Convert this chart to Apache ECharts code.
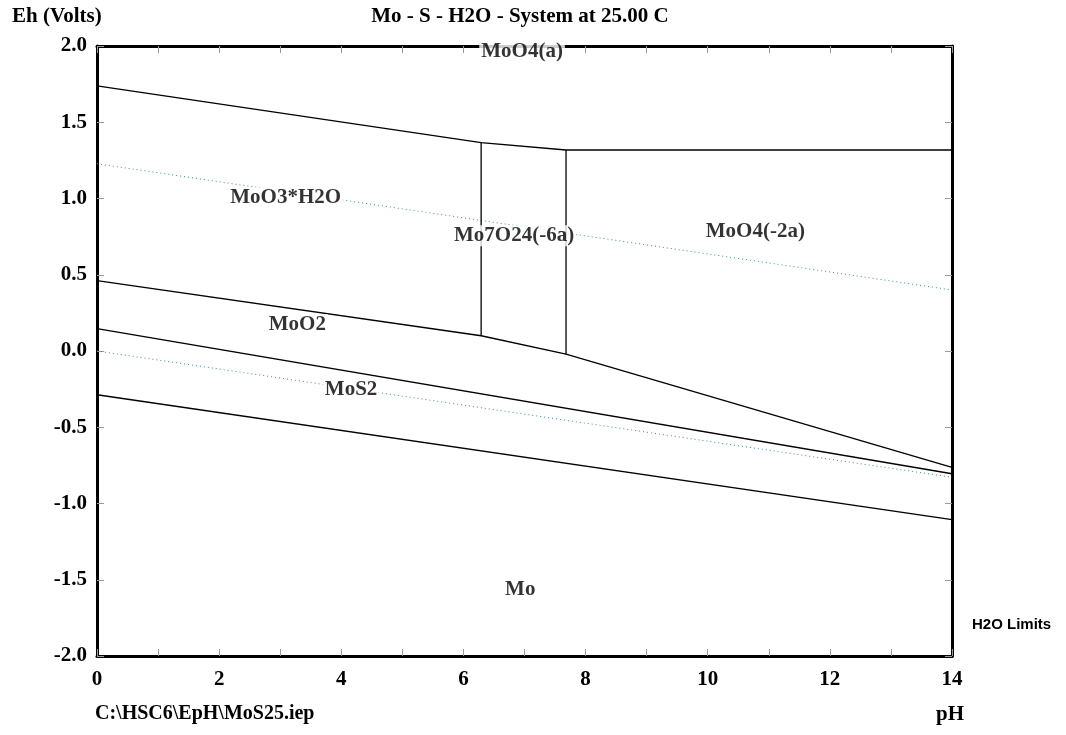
<!DOCTYPE html>
<html lang="en">
<head>
    <meta charset="UTF-8">
    <title>Mo - S - H2O - System at 25.00 C</title>
    <script src="https://cdn.jsdelivr.net/npm/echarts@6/dist/echarts.min.js"></script>
    <style>
        html, body { margin: 0; padding: 0; background: #fff; }
        #chart { width: 1066px; height: 735px; }
    </style>
</head>
<body>
<div id="chart"></div>
<script>
    // 数据：pH, Eh (V)
    var phTicks = [0, 2, 4, 6, 8, 10, 12, 14];
    var ehTicks = [-2.0, -1.5, -1.0, -0.5, 0.0, 0.5, 1.0, 1.5, 2.0];

    var topBoundary = [[0, 1.738], [6.29, 1.366], [7.68, 1.318], [14, 1.318]];
    var leftVertical = [[6.29, 1.366], [6.29, 0.10]];
    var rightVertical = [[7.68, 1.318], [7.68, -0.02]];
    var moO2Boundary = [[0, 0.462], [6.29, 0.10], [7.68, -0.02], [14, -0.763]];
    var moS2Boundary = [[0, 0.147], [14, -0.805]];
    var moBoundary = [[0, -0.287], [14, -1.106]];
    var waterUpper = [[0, 1.228], [14, 0.400]];
    var waterLower = [[0, 0.0], [14, -0.828]];

    var areaNames = ['MoO4(a)', 'MoO3*H2O', 'Mo7O24(-6a)', 'MoO4(-2a)', 'MoO2', 'MoS2', 'Mo'];
    var areaPh = [6.96, 3.09, 6.83, 10.78, 3.28, 4.16, 6.93];
    var areaEh = [1.962, 1.004, 0.755, 0.781, 0.172, -0.254, -1.565];

    var serif = '"Liberation Serif", "DejaVu Serif", serif';
    var chart = echarts.init(document.getElementById('chart'));

    function solid(data) {
        return {
            type: 'line', data: data, showSymbol: false, silent: true,
            lineStyle: {color: '#000', width: 1.3}
        };
    }

    function dotted(data) {
        return {
            type: 'line', data: data, showSymbol: false, silent: true,
            lineStyle: {color: '#3f8a8a', width: 1, type: [1, 3]}
        };
    }

    var labelData = areaNames.map(function (n, i) {
        return {value: [areaPh[i], areaEh[i]], name: n};
    });

    var tickStyle = {show: true, inside: true, length: 7, lineStyle: {color: '#999', width: 1}};
    var lineStyle = {show: true, onZero: false, lineStyle: {color: '#000', width: 3}};

    chart.setOption({
        animation: false,
        grid: {left: 97, right: 114, top: 46, bottom: 79},
        xAxis: [{
            type: 'value', min: 0, max: 14, interval: 1,
            axisLine: lineStyle, axisTick: tickStyle, splitLine: {show: false},
            axisLabel: {
                margin: 13, color: '#000', fontFamily: serif, fontWeight: 'bold', fontSize: 21,
                formatter: function (v) { return phTicks.indexOf(v) >= 0 ? String(v) : ''; }
            }
        }, {
            type: 'value', min: 0, max: 14, interval: 1, position: 'top',
            axisLine: lineStyle, axisTick: tickStyle, splitLine: {show: false},
            axisLabel: {show: false}
        }],
        yAxis: [{
            type: 'value', min: -2, max: 2, interval: 0.5,
            axisLine: lineStyle, axisTick: tickStyle, splitLine: {show: false},
            axisLabel: {
                margin: 10, color: '#000', fontFamily: serif, fontWeight: 'bold', fontSize: 21,
                formatter: function (v) { return v.toFixed(1); }
            }
        }, {
            type: 'value', min: -2, max: 2, interval: 0.5, position: 'right',
            axisLine: lineStyle, axisTick: tickStyle, splitLine: {show: false},
            axisLabel: {show: false}
        }],
        series: [
            dotted(waterUpper),
            dotted(waterLower),
            solid(topBoundary),
            solid(leftVertical),
            solid(rightVertical),
            solid(moO2Boundary),
            solid(moS2Boundary),
            solid(moBoundary),
            {
                type: 'scatter', data: labelData, symbolSize: 0, silent: true, z: 5,
                label: {
                    show: true, position: 'inside', formatter: '{b}',
                    color: '#000', fontFamily: serif, fontWeight: 'bold', fontSize: 21,
                    backgroundColor: '#fff', padding: [0, 2]
                }
            }
        ],
        graphic: [
            {type: 'text', x: 12, y: 6, style: {text: 'Eh (Volts)', fill: '#000', font: 'bold 21px ' + serif}},
            {type: 'text', x: 520, y: 6, style: {text: 'Mo - S - H2O - System at 25.00 C', fill: '#000', font: 'bold 21px ' + serif, align: 'center', textAlign: 'center'}},
            {type: 'text', x: 972, y: 617, style: {text: 'H2O Limits', fill: '#000', font: 'bold 15px "Liberation Sans", Arial, sans-serif'}},
            {type: 'text', x: 95, y: 704, style: {text: 'C:\\HSC6\\EpH\\MoS25.iep', fill: '#000', font: 'bold 20px ' + serif}},
            {type: 'text', x: 936, y: 704, style: {text: 'pH', fill: '#000', font: 'bold 21px ' + serif}}
        ]
    });
</script>
</body>
</html>
